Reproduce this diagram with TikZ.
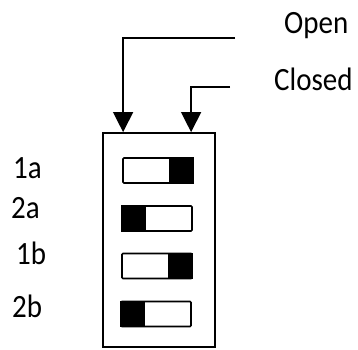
\documentclass[tikz,border=0pt]{standalone}
\usepackage{graphicx}
\usepackage{fontspec}
\setmainfont{Carlito}
\usetikzlibrary{arrows.meta,positioning}
\tikzstyle{lead}=[line width=1.4pt, -{Triangle[length=20pt,width=20pt]}]
\tikzstyle{slot}=[draw, line width=1.6pt, rounded corners=1pt,
                  minimum width=70pt, minimum height=25pt, inner sep=0pt]
\tikzstyle{lbl}=[font=\fontsize{29}{29}\selectfont, inner sep=0pt, anchor=base west]
\newcommand{\tall}[1]{\scalebox{1}[1.12]{#1}}

\begin{document}
\begin{tikzpicture}[x=1pt,y=-1pt]
    \useasboundingbox (0,0) rectangle (358,349);

    % housing
    \node (dip) [draw, line width=1.8pt, minimum width=112pt,
                 minimum height=214pt, inner sep=0pt] at (159,240) {};

    % switches, black end right (1) or left (0)
    \foreach \n/\x/\y/\s in {1a/158/170.5/1,2a/157/218.5/0,1b/157/266/1,2b/156/314/0}{
        \node (s\n) [slot] at (\x,\y) {};
        \ifnum\s=1
            \fill (s\n.north east) rectangle ([xshift=-25pt]s\n.south east);
        \else
            \fill (s\n.north west) rectangle ([xshift=25pt]s\n.south west);
        \fi
    }

    % labels
    \foreach \n/\x/\y in {1a/13/178,2a/11/218,1b/16/264,2b/12/317}
        \node (l\n) [lbl] at (\x,\y) {\tall{\n}};

    \node (open) [lbl] at (284,33) {\tall{Open}};
    \node (closed) [lbl] at (274,90) {\tall{Closed}};

    % leaders
    \coordinate (o) at (235,38);
    \coordinate (c) at (230,87);
    \coordinate (inA) at ([xshift=21pt]dip.north west);
    \coordinate (inB) at ([xshift=89pt]dip.north west);
    \draw [lead] (o) -| (inA);
    \draw [lead] (c) -| (inB);
\end{tikzpicture}
\end{document}
